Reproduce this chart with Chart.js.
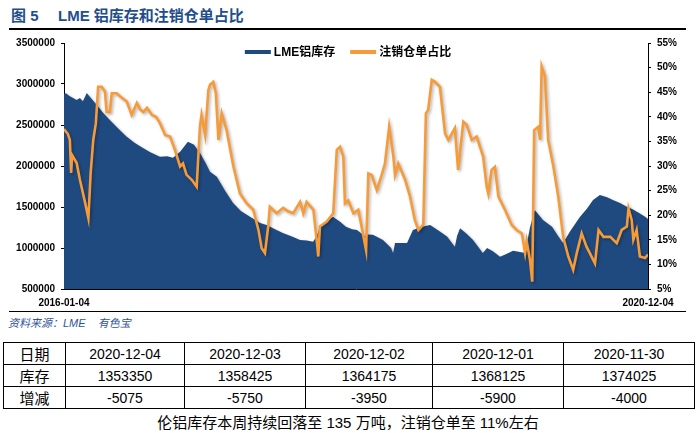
<!DOCTYPE html>
<html>
<head>
<meta charset="utf-8">
<script src="https://cdn.jsdelivr.net/npm/chart.js@4.4.0/dist/chart.umd.min.js"></script>
<style>
  body { margin: 0; background: #fff; }
  #page { position: relative; width: 696px; height: 433px; overflow: hidden;
          font-family: "Liberation Sans", "Noto Sans CJK SC", sans-serif; color: #000; }
  .title { position: absolute; top: 4px; font-size: 15px; font-weight: bold; color: #1f4e8c; white-space: nowrap; }
  .rule { position: absolute; left: 9px; width: 677px; background: #000; }
  #chartBox { position: absolute; left: 0; top: 30px; width: 696px; height: 280px; }
  .source { position: absolute; left: 8px; top: 314px; font-size: 11px; font-style: italic; color: #2f5597; white-space: nowrap; }
  table { position: absolute; left: 3px; top: 342px; border-collapse: collapse; table-layout: fixed; width: 691px; }
  td { border: 1px solid #000; height: 21px; padding: 0; text-align: center; font-size: 14px; }
  td.head { font-size: 15px; font-family: "Noto Sans CJK SC", sans-serif; }
  .caption { position: absolute; left: 0; width: 696px; top: 411px; text-align: center; font-size: 15px;
             font-family: "Liberation Sans", "Noto Sans CJK SC", sans-serif; }
</style>
</head>
<body>
<div id="page">
  <div class="title" style="left:11px">图 5</div>
  <div class="title" style="left:58px">LME 铝库存和注销仓单占比</div>
  <div class="rule" style="top:28px;height:1.5px"></div>
  <div id="chartBox"><canvas id="chart" width="696" height="280"></canvas></div>
  <div class="rule" style="top:311px;height:1px"></div>
  <div class="source">资料来源：LME&nbsp;&nbsp;&nbsp;&nbsp;有色宝</div>
  <table id="tbl">
    <colgroup>
      <col style="width:62px"><col style="width:119px"><col style="width:121px">
      <col style="width:127px"><col style="width:131px"><col style="width:131px">
    </colgroup>
    <tbody></tbody>
  </table>
  <div class="caption">伦铝库存本周持续回落至 135 万吨，注销仓单至 11%左右</div>
</div>
<script>
// x values are days since 2016-01-04
const stockDay = [0, 6, 18, 39, 49, 58, 70, 80, 101, 120, 141, 166, 193, 218, 243, 264, 295, 317, 335, 357,
  381, 400, 418, 434, 449, 470, 495, 520, 544, 572, 603, 623, 649, 673, 701, 726, 747, 766, 778, 787,
  809, 827, 849, 867, 886, 901, 926, 932, 950, 981, 1006, 1012, 1018, 1055, 1073, 1101, 1126, 1156, 1178, 1202,
  1209, 1218, 1239, 1258, 1288, 1301, 1319, 1341, 1362, 1381, 1402, 1418, 1433, 1448, 1473, 1501, 1519, 1535, 1556, 1587,
  1608, 1627, 1648, 1670, 1688, 1710, 1731, 1750, 1771, 1787, 1796];
const stockTons = [2880000, 2887000, 2850000, 2805000, 2830000, 2790000, 2890000, 2840000, 2744000, 2650000,
  2561000, 2460000, 2357000, 2280000, 2220000, 2170000, 2113000, 2120000, 2100000, 2175000,
  2296000, 2260000, 2158000, 2050000, 1930000, 1870000, 1700000, 1549000, 1450000, 1382000,
  1305000, 1280000, 1230000, 1183000, 1140000, 1098000, 1090000, 1077000, 1150000, 1260000,
  1330000, 1382000, 1321000, 1260000, 1230000, 1220000, 1139000, 1165000, 1163000, 1098000,
  1000000, 939000, 1061000, 1061000, 1220000, 1260000, 1280000, 1200000, 1139000, 1016000,
  1150000, 1240000, 1170000, 1098000, 939000, 1000000, 960000, 894000, 930000, 965000,
  950000, 939000, 1250000, 1463000, 1341000, 1260000, 1150000, 1061000, 1200000, 1382000,
  1480000, 1585000, 1646000, 1620000, 1585000, 1550000, 1504000, 1470000, 1422000, 1380000, 1353350];

const ratioDay = [0, 12, 18, 22, 25, 39, 49, 65, 75, 82, 90, 98, 105, 116, 126, 131, 141, 147, 162, 175,
  193, 208, 224, 234, 244, 255, 270, 283, 295, 311, 326, 341, 357, 366, 377, 393, 408, 418, 423, 434,
  444, 449, 459, 467, 475, 485, 500, 521, 541, 562, 582, 598, 608, 618, 628, 633, 654, 674, 689, 705,
  726, 736, 746, 767, 777, 782, 787, 808, 828, 839, 849, 859, 864, 874, 890, 905, 915, 929, 936, 946,
  962, 977, 987, 1000, 1013, 1018, 1028, 1049, 1064, 1079, 1090, 1105, 1113, 1120, 1131, 1141, 1156, 1172, 1182, 1202,
  1212, 1228, 1238, 1254, 1269, 1289, 1300, 1305, 1315, 1325, 1336, 1356, 1377, 1392, 1408, 1418, 1423, 1433, 1440, 1446,
  1459, 1464, 1469, 1479, 1489, 1505, 1520, 1535, 1551, 1566, 1577, 1592, 1607, 1633, 1644, 1659, 1680, 1700, 1715, 1731,
  1736, 1746, 1751, 1761, 1771, 1787, 1796];
const ratioPct = [37.5, 36.5, 35.3, 28.6, 32.2, 30.6, 27.2, 22.5, 19.4, 28.6, 35.3, 38.7, 46.1, 46.1, 45.1, 41.0, 41.0, 44.8, 44.8, 44.0,
  43.1, 40.4, 42.8, 41.5, 41.0, 41.8, 40.4, 40.0, 38.7, 36.3, 36.0, 33.3, 29.9, 30.5, 28.2, 27.2, 25.8, 38.0, 40.4, 36.3,
  45.4, 46.5, 47.1, 44.8, 35.3, 40.7, 37.3, 29.9, 24.4, 22.4, 21.1, 17.0, 13.3, 12.3, 17.7, 21.7, 20.4, 21.5, 20.8, 20.4,
  22.7, 20.4, 22.7, 21.1, 15.0, 11.6, 17.7, 18.7, 20.4, 33.3, 33.9, 31.9, 22.4, 23.0, 20.4, 21.1, 17.7, 12.9, 28.5, 28.2,
  25.1, 28.2, 30.5, 38.0, 31.9, 28.2, 30.5, 27.2, 23.8, 19.0, 17.0, 18.1, 40.7, 41.4, 47.5, 47.1, 46.1, 36.6, 35.3, 37.7,
  29.2, 39.0, 38.4, 35.3, 36.0, 31.9, 25.8, 24.4, 29.2, 29.8, 23.8, 21.1, 18.0, 17.0, 16.3, 12.3, 14.7, 10.9, 6.5, 37.3,
  38.0, 35.3, 50.2, 48.2, 35.3, 29.9, 23.8, 15.6, 11.6, 8.9, 12.3, 16.3, 13.6, 10.2, 17.0, 15.6, 15.6, 14.3, 17.0, 17.7,
  21.4, 19.0, 15.0, 17.0, 11.6, 11.3, 12.0];

const xTickDay = [0, 1796];
const xTickLabel = ['2016-01-04', '2020-12-04'];

const tableDates = ['2020-12-04', '2020-12-03', '2020-12-02', '2020-12-01', '2020-11-30'];
const tableStock = [1353350, 1358425, 1364175, 1368125, 1374025];
const tableChange = [-5075, -5750, -3950, -5900, -4000];

// table
const tbody = document.querySelector('#tbl tbody');
[['日期', tableDates], ['库存', tableStock], ['增减', tableChange]].forEach(([head, vals]) => {
    const tr = document.createElement('tr');
    tr.innerHTML = '<td class="head">' + head + '</td>' + vals.map(v => '<td>' + v + '</td>').join('');
    tbody.appendChild(tr);
});

const axisFont = { family: '"Liberation Sans", Arial, sans-serif', size: 10, weight: 'bold' };

const shadowPlugin = {
    id: 'shadow',
    beforeDatasetsDraw(chart) {
        const ctx = chart.ctx;
        ctx.save();
        ctx.shadowColor = 'rgba(0,0,0,0.3)';
        ctx.shadowBlur = 3;
        ctx.shadowOffsetX = 1.5;
        ctx.shadowOffsetY = 1.5;
    },
    afterDatasetsDraw(chart) {
        chart.ctx.restore();
    }
};

// legend drawn inside the plot, near the top
const legendPlugin = {
    id: 'topLegend',
    afterDraw(chart) {
        const ctx = chart.ctx;
        const items = chart.data.datasets;
        const box = 26, gap = 3, itemGap = 15;
        ctx.save();
        ctx.font = 'bold 12px "Liberation Sans", "Noto Sans CJK SC", sans-serif';
        ctx.textBaseline = 'middle';
        const widths = items.map(ds => box + gap + ctx.measureText(ds.label).width);
        const total = widths.reduce((a, b) => a + b, 0) + itemGap * (items.length - 1);
        let x = chart.width / 2 - total / 2;
        const y = chart.chartArea.top + 9;
        items.forEach((ds, i) => {
            ctx.fillStyle = ds.legendColor;
            ctx.fillRect(x, y - 2, box, 4);
            ctx.fillStyle = '#000';
            ctx.fillText(ds.label, x + box + gap, y + 0.5);
            x += widths[i] + itemGap;
        });
        ctx.restore();
    }
};

new Chart(document.getElementById('chart'), {
    type: 'line',
    data: {
        datasets: [
            {
                label: 'LME铝库存',
                data: stockDay.map((d, i) => ({ x: d, y: stockTons[i] })),
                yAxisID: 'y',
                fill: 'start',
                backgroundColor: '#1f4a80',
                legendColor: '#1f4a80',
                borderWidth: 0,
                pointRadius: 0,
                order: 1
            },
            {
                label: '注销仓单占比',
                data: ratioDay.map((d, i) => ({ x: d, y: ratioPct[i] })),
                yAxisID: 'y1',
                fill: false,
                borderColor: '#f79a38',
                legendColor: '#f79a38',
                borderWidth: 2.6,
                pointRadius: 0,
                order: 0
            }
        ]
    },
    options: {
        responsive: false,
        animation: false,
        devicePixelRatio: 1,
        layout: { padding: { top: 13, left: 0, right: 0, bottom: 0 } },
        plugins: {
            legend: { display: false },
            tooltip: { enabled: false }
        },
        scales: {
            x: {
                type: 'linear',
                min: xTickDay[0],
                max: xTickDay[xTickDay.length - 1],
                afterBuildTicks: (s) => { s.ticks = xTickDay.map(v => ({ value: v })); },
                afterFit: (s) => { s.height = 21; },
                grid: { display: false, drawTicks: false },
                border: { display: true, color: '#000', width: 1 },
                ticks: {
                    autoSkip: false,
                    maxRotation: 0,
                    padding: 8,
                    color: '#000',
                    font: axisFont,
                    callback: (v) => xTickLabel[xTickDay.indexOf(v)]
                }
            },
            y: {
                position: 'left',
                min: 500000,
                max: 3500000,
                afterFit: (s) => { s.width = 64; },
                grid: { drawOnChartArea: false, drawTicks: true, tickLength: 3, color: '#000' },
                border: { display: true, color: '#000', width: 1 },
                ticks: { stepSize: 500000, padding: 6, color: '#000', font: axisFont, callback: (v) => String(v) }
            },
            y1: {
                position: 'right',
                min: 5,
                max: 55,
                afterFit: (s) => { s.width = 48; },
                grid: { drawOnChartArea: false, drawTicks: true, tickLength: 3, color: '#000' },
                border: { display: true, color: '#000', width: 1 },
                ticks: { stepSize: 5, padding: 6, color: '#000', font: axisFont, callback: (v) => v + '%' }
            }
        }
    },
    plugins: [shadowPlugin, legendPlugin]
});
</script>
</body>
</html>
